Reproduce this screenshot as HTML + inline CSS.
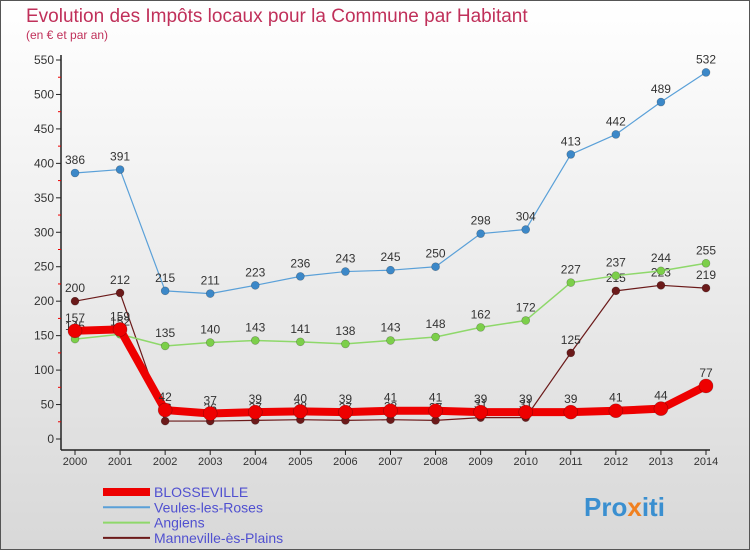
<!DOCTYPE html>
<html><head><meta charset="utf-8"><style>
body{margin:0;width:750px;height:550px;overflow:hidden;font-family:"Liberation Sans",sans-serif}
svg{display:block}
</style></head><body>
<svg width="750" height="550" id="c">
<defs><linearGradient id="bg" x1="0" y1="0" x2="0" y2="1"><stop offset="0" stop-color="#ffffff"/><stop offset="1" stop-color="#d8d8d8"/></linearGradient></defs>
<rect x="0.5" y="0.5" width="749" height="549" fill="url(#bg)" stroke="#555"/>
<text x="26" y="22" font-size="19" fill="#c0305a">Evolution des Impôts locaux pour la Commune par Habitant</text>
<text x="26" y="39" font-size="12" fill="#c0305a">(en € et par an)</text>
<g id="axes"></g><g id="series"></g><g id="legend"></g>
<text x="584" y="516" font-size="26" font-weight="bold"><tspan fill="#3a8fd0">Pro</tspan><tspan fill="#f08020">x</tspan><tspan fill="#3a8fd0">iti</tspan></text>
</svg>
<script>
const years=[2000,2001,2002,2003,2004,2005,2006,2007,2008,2009,2010,2011,2012,2013,2014];
const yTicks=[0,50,100,150,200,250,300,350,400,450,500,550];
const blosseville=[157,159,42,37,39,40,39,41,41,39,39,39,41,44,77];
const veules=[386,391,215,211,223,236,243,245,250,298,304,413,442,489,532];
const angiens=[145,152,135,140,143,141,138,143,148,162,172,227,237,244,255];
const manneville=[200,212,26,26,27,28,27,28,27,31,31,125,215,223,219];
const NS="http://www.w3.org/2000/svg";
const xs=i=>75+i*(631/14);
const ys=v=>439-v*(379/550);
function mk(tag,attrs,parent){const e=document.createElementNS(NS,tag);for(const k in attrs)e.setAttribute(k,attrs[k]);parent.appendChild(e);return e;}
const ax=document.getElementById('axes');
let yl=mk('line',{x1:61,y1:55,x2:61,y2:450,stroke:'#222','stroke-width':1.5},ax);


let xl=mk('line',{x1:61,y1:450,x2:710,y2:450,stroke:'#222','stroke-width':1.5},ax);


yTicks.forEach(v=>{
  mk('line',{x1:56,y1:ys(v),x2:61,y2:ys(v),stroke:'#222'},ax);
  if(v<550)mk('line',{x1:58,y1:ys(v+25),x2:61,y2:ys(v+25),stroke:'#e00'},ax);
  const t=mk('text',{x:54,y:ys(v)+4,'font-size':12,fill:'#333','text-anchor':'end'},ax);
  t.textContent=v;
  
  
});
years.forEach((y,i)=>{
  mk('line',{x1:xs(i),y1:450,x2:xs(i),y2:455,stroke:'#222'},ax);
  const t=mk('text',{x:xs(i),y:465,'font-size':11,fill:'#333','text-anchor':'middle'},ax);
  t.textContent=y;
  
  
});
const sg=document.getElementById('series');
function draw(data,color,dot,lw,r,name){
  const g=mk('g',{},sg);
  
  
  const p=mk('polyline',{points:data.map((v,i)=>xs(i)+','+ys(v)).join(' '),fill:'none',stroke:color,'stroke-width':lw,'stroke-linejoin':'round'},g);
  
  
  data.forEach((v,i)=>{
    const c=mk('circle',{cx:xs(i),cy:ys(v),r:r,fill:dot,stroke:'rgba(0,0,0,0.3)','stroke-width':0.6},g);
    
    
    const t=mk('text',{x:xs(i),y:ys(v)-9,'font-size':12,fill:'#333','text-anchor':'middle'},g);
    t.textContent=v;
    
    
  });
}
draw(manneville,'#6b1a1a','#6b1a1a',1.2,4,'manneville');
draw(angiens,'#8ed86a','#7ccf4a',1.5,4,'angiens');
draw(veules,'#5aa0d8','#3c88c8',1.2,4,'veules');
draw(blosseville,'#ee0000','#ee0000',8,7,'blosseville');
const lg=document.getElementById('legend');
[['BLOSSEVILLE','#ee0000',8],['Veules-les-Roses','#5aa0d8',2],['Angiens','#8ed86a',2],['Manneville-ès-Plains','#6b1a1a',2]].forEach((e,i)=>{
  const y=492+i*15.3;
  const g=mk('g',{},lg);
  
  
  mk('line',{x1:103,y1:y,x2:150,y2:y,stroke:e[1],'stroke-width':e[2]},g);
  const t=mk('text',{x:154,y:y+5,'font-size':14,fill:'#5050d0'},g);
  t.textContent=e[0];
});
</script>
</body></html>
